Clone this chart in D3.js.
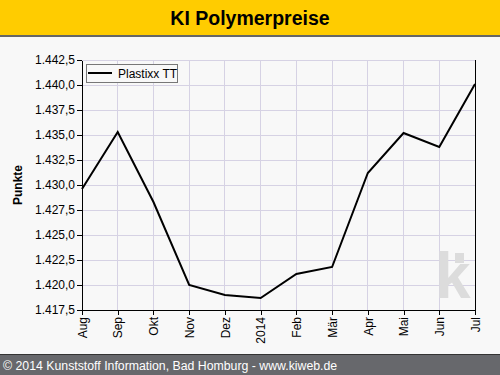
<!DOCTYPE html>
<html>
<head>
<meta charset="utf-8">
<script src="https://cdn.jsdelivr.net/npm/d3@7"></script>
<style>
  body { margin: 0; background: #f8f8f8; }
  svg { display: block; font-family: "Liberation Sans", Arial, sans-serif; }
</style>
</head>
<body>
<div id="chart"></div>
<script>
const width = 500, height = 375;
const margin = { left: 82, right: 25, top: 60, bottom: 65 };

// data
const months = ["Aug", "Sep", "Okt", "Nov", "Dez", "2014", "Feb", "Mär", "Apr", "Mai", "Jun", "Jul"];
const plastixx = [1429.6, 1435.3, 1428.3, 1420.0, 1419.0, 1418.7, 1421.1, 1421.8, 1431.2, 1435.2, 1433.8, 1440.1];
const yTicks = [1417.5, 1420.0, 1422.5, 1425.0, 1427.5, 1430.0, 1432.5, 1435.0, 1437.5, 1440.0, 1442.5];

const fmt = d3.formatLocale({ decimal: ",", thousands: ".", grouping: [3], currency: ["", "€"] }).format(",.1f");

let svg = d3.select("#chart").append("svg")
    .attr("width", width)
    .attr("height", height);

svg.append("rect").attr("width", width).attr("height", height).attr("fill", "#f8f8f8");

// title bar
svg.append("rect").attr("x", 0).attr("y", 0).attr("width", width).attr("height", 35).attr("fill", "#ffcc00");
svg.append("rect").attr("x", 0).attr("y", 35).attr("width", width).attr("height", 2).attr("fill", "#666666");
svg.append("text")
    .attr("x", width / 2).attr("y", 25)
    .attr("text-anchor", "middle")
    .style("font-size", "19.5px").style("font-weight", "bold")
    .text("KI Polymerpreise");

let iw = width - margin.left - margin.right;
let ih = 250;

let g = svg.append("g").attr("transform", `translate(${margin.left}, ${margin.top})`);

let x = d3.scalePoint().domain(months).range([0, iw]);
let y = d3.scaleLinear().domain([1417.5, 1442.5]).range([ih, 0]);

// grid
g.append("g").selectAll("line").data(yTicks).join("line")
    .attr("x1", 0).attr("x2", iw)
    .attr("y1", d => y(d)).attr("y2", d => y(d))
    .attr("stroke", "#d6d2e4").attr("shape-rendering", "crispEdges");
g.append("g").selectAll("line").data(months).join("line")
    .attr("x1", d => x(d)).attr("x2", d => x(d))
    .attr("y1", 0).attr("y2", ih)
    .attr("stroke", "#d6d2e4").attr("shape-rendering", "crispEdges");

// watermark
g.append("text")
    .attr("x", iw - 40).attr("y", ih - 12)
    .style("font-size", "64px").style("font-weight", "bold")
    .attr("fill", "#dcdcdc")
    .text("k");
g.append("rect")
    .attr("x", iw - 20).attr("y", ih - 57).attr("width", 9).attr("height", 10)
    .attr("fill", "#dcdcdc");

// right border
g.append("line").attr("x1", iw).attr("x2", iw).attr("y1", 0).attr("y2", ih)
    .attr("stroke", "#000").attr("shape-rendering", "crispEdges");

// axes
let yAxis = g.append("g")
    .call(d3.axisLeft(y).tickValues(yTicks).tickSize(5).tickSizeOuter(0).tickFormat(fmt));
let xAxis = g.append("g")
    .attr("transform", `translate(0, ${ih})`)
    .call(d3.axisBottom(x).tickSize(5).tickSizeOuter(0));

[yAxis, xAxis].forEach(a => {
    a.select(".domain").attr("stroke", "#000").attr("shape-rendering", "crispEdges");
    a.selectAll(".tick line").attr("stroke", "#000").attr("shape-rendering", "crispEdges");
    a.selectAll("text").attr("fill", "#000").style("font-size", "12px").style("font-family", "Liberation Sans, Arial, sans-serif");
});
yAxis.selectAll("text").attr("x", -7);
xAxis.selectAll("text")
    .attr("transform", "rotate(-90)")
    .attr("x", -7).attr("y", 0).attr("dy", "0.35em")
    .style("text-anchor", "end");

// line
g.append("path")
    .datum(plastixx)
    .attr("fill", "none")
    .attr("stroke", "#000")
    .attr("stroke-width", 2)
    .attr("d", d3.line().x((d, i) => x(months[i])).y(d => y(d)));

// y axis title
svg.append("text")
    .attr("transform", `translate(22, ${margin.top + ih / 2}) rotate(-90)`)
    .attr("text-anchor", "middle")
    .style("font-size", "12px").style("font-weight", "bold")
    .text("Punkte");

// legend
let legend = g.append("g").attr("transform", "translate(4, 4)");
legend.append("rect").attr("width", 91).attr("height", 18)
    .attr("fill", "#f8f8f8").attr("stroke", "#777").attr("shape-rendering", "crispEdges");
legend.append("line").attr("x1", 2).attr("x2", 26).attr("y1", 9).attr("y2", 9)
    .attr("stroke", "#000").attr("stroke-width", 2);
legend.append("text").attr("x", 32).attr("y", 14)
    .style("font-size", "12px").text("Plastixx TT");

// footer
svg.append("rect").attr("x", 0).attr("y", 354).attr("width", width).attr("height", 21).attr("fill", "#67686c");
svg.append("rect").attr("x", 0).attr("y", 354).attr("width", width).attr("height", 1).attr("fill", "#333");
svg.append("text")
    .attr("x", 3).attr("y", 370)
    .attr("fill", "#fff")
    .style("font-size", "12.3px")
    .text("© 2014 Kunststoff Information, Bad Homburg - www.kiweb.de");
</script>
</body>
</html>
